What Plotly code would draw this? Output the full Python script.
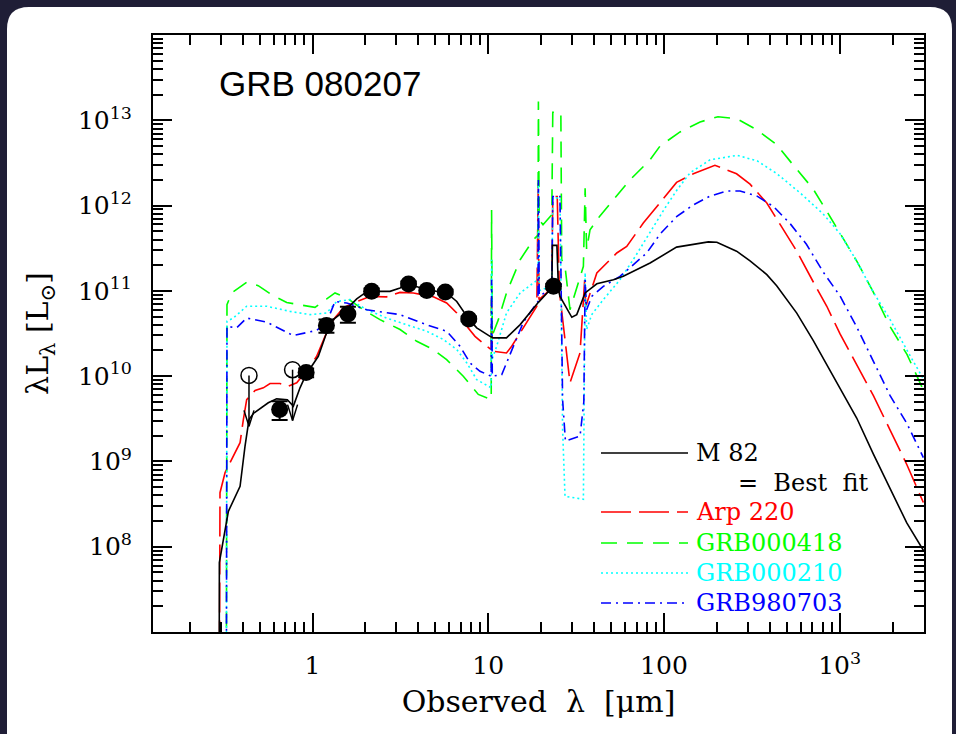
import plotly.graph_objects as go

# ---------------- data (wavelength in micron, lambda*L_lambda in L_sun) -------------
m82_wl = [0.294, 0.295, 0.332, 0.387, 0.413, 0.435, 0.461, 0.560, 0.625, 0.719,
          0.778, 0.849, 0.918, 1.079, 1.193, 1.313, 1.566, 1.785, 1.99, 2.17,
          2.76, 3.15, 3.51, 4.47, 5.80, 6.62, 7.74, 8.60, 10.24, 10.7,
          12.7, 15.2, 19.3, 23.0, 23.2, 24.6, 25.1, 25.6, 29.9, 31.9,
          35.6, 41.5, 51.6, 58.7, 83.4, 118, 147, 179, 200, 259,
          309, 385, 438, 570, 708, 845, 1005, 1250, 1556, 1937,
          2410, 2995]
m82_L = [1e5, 6.5e7, 2.6e8, 5.1e8, 1.51e9, 3.1e9, 3.65e9, 4.87e9, 5.42e9, 5.3e9,
         4.45e9, 7.3e9, 1.04e10, 1.71e10, 3.07e10, 4.6e10, 6.14e10, 8.04e10, 9.45e10, 9.86e10,
         9.86e10, 1.08e11, 1.2e11, 1.03e11, 9.45e10, 7.5e10, 4.69e10, 3.68e10, 2.93e10, 2.81e10,
         2.81e10, 4.02e10, 7.33e10, 1.08e11, 3.41e11, 3.41e11, 1.03e11, 8.6e10, 4.9e10, 5.26e10,
         9.45e10, 1.21e11, 1.35e11, 1.48e11, 2.12e11, 3.26e11, 3.51e11, 3.75e11, 3.71e11, 2.92e11,
         2.25e11, 1.55e11, 1.15e11, 5.48e10, 2.61e10, 1.36e10, 7.1e9, 3.23e9, 1.22e9, 4.82e8,
         1.9e8, 9.1e7]

arp_wl = [0.294, 0.2975, 0.318, 0.347, 0.387, 0.404, 0.422, 0.471, 0.525, 0.573,
          0.653, 0.728, 0.813, 0.886, 0.968, 1.056, 1.178, 1.313, 1.497, 1.785,
          2.12, 2.64, 3.15, 3.75, 4.87, 5.80, 6.62, 7.55, 8.41, 9.8,
          10.4, 10.45, 10.55, 10.7, 12.7, 13.6, 15.2, 17.3, 18.9, 19.25,
          19.45, 21.5, 23.0, 23.3, 24.7, 25.4, 29.2, 33.3, 35.4, 35.9,
          41.5, 53.9, 61.4, 76.3, 83.4, 118, 147, 195, 259, 309,
          385, 458, 570, 708, 845, 1005, 1250, 1556, 1937, 2410,
          2995]
arp_L = [1e5, 4.3e8, 7.4e8, 1.05e9, 1.66e9, 3.1e9, 5.3e9, 6.8e9, 7.3e9, 8.2e9,
         8.2e9, 7.6e9, 8.36e9, 1.04e10, 1.31e10, 1.71e10, 2.93e10, 4.6e10, 6.3e10, 7.5e10,
         8.6e10, 8.5e10, 9.6e10, 9.45e10, 8.5e10, 7.2e10, 5.5e10, 3.84e10, 2.93e10, 2.24e10,
         2.05e10, 8.3e10, 1.9e10, 1.96e10, 1.87e10, 2.24e10, 3.21e10, 5.0e10, 6.6e10, 1.83e12,
         7.9e10, 9.45e10, 1.13e11, 1.28e12, 1.28e12, 1.0e11, 8.36e9, 1.87e10, 1.35e11, 6.6e10,
         1.62e11, 2.78e11, 3.32e11, 6.23e11, 7.8e11, 1.87e12, 2.36e12, 2.97e12, 2.36e12, 1.78e12,
         1.07e12, 6.1e11, 2.92e11, 1.27e11, 6.6e10, 3.13e10, 1.36e10, 5.9e9, 2.33e9, 9.2e8,
         3.3e8]

g418_wl = [0.322, 0.326, 0.347, 0.422, 0.491, 0.586, 0.713, 0.849, 1.033, 1.205,
           1.343, 1.566, 1.945, 2.42, 3.15, 3.92, 4.87, 5.80, 7.21, 8.78,
           10.4, 10.45, 10.55, 11.42, 12.7, 15.2, 18.06, 19.2, 19.3, 19.5,
           20.5, 23.0, 23.3, 25.9, 26.2, 27.35, 29.2, 34.8, 35.6, 36.3,
           37.96, 43.0, 51.6, 64.1, 83.4, 95.1, 123.5, 160.6, 203, 261,
           339, 440, 543, 706, 882, 1005, 1256, 1549, 1937, 2420,
           2985]
g418_L = [1e4, 6.9e10, 9.45e10, 1.26e11, 1.15e11, 9.0e10, 7.3e10, 6.9e10, 6.4e10, 8.04e10,
          9.45e10, 8.3e10, 6.0e10, 4.6e10, 3.52e10, 2.56e10, 2.05e10, 1.56e10, 9.98e9, 6.1e9,
          5.3e9, 8.9e11, 3.0e10, 4.6e10, 9.45e10, 2.32e11, 3.98e11, 4.5e11, 1.66e13, 6.8e11,
          5.96e11, 7.8e11, 1.24e13, 1.24e13, 2.32e11, 1.94e11, 6.0e10, 1.94e11, 1.6e12, 3.03e11,
          5.2e11, 7.45e11, 1.17e12, 2.0e12, 3.44e12, 5.0e12, 7.3e12, 9.57e12, 1.10e13, 1.04e13,
          7.7e12, 5.15e12, 3.0e12, 1.57e12, 7.4e11, 4.68e11, 2.2e11, 9.8e10, 3.81e10, 1.79e10,
          6.97e9]

g210_wl = [0.322, 0.326, 0.354, 0.422, 0.549, 0.745, 0.968, 1.205, 1.373, 1.635,
           2.035, 2.64, 3.44, 4.47, 5.55, 6.62, 7.55, 8.60, 10.4, 10.45,
           10.55, 11.17, 12.7, 15.2, 18.06, 19.2, 19.3, 19.5, 21.5, 23.0,
           23.3, 25.6, 26.5, 27.35, 34.8, 35.6, 36.3, 38.8, 45.2, 56.2,
           68.5, 83.4, 101.5, 118.8, 140.8, 183, 261, 339, 440, 595,
           805, 1005, 1256, 1549, 1937, 2420, 2985]
g210_L = [1e4, 4.4e10, 4.8e10, 6.6e10, 6.6e10, 5.75e10, 5.26e10, 5.5e10, 7.5e10, 7.9e10,
          6.0e10, 4.8e10, 4.0e10, 3.36e10, 2.69e10, 2.05e10, 1.43e10, 9.1e9, 7.3e9, 2.32e11,
          1.6e10, 2.24e10, 5.5e10, 9.45e10, 1.24e11, 1.35e11, 1.75e12, 1.0e11, 1.09e11, 1.13e11,
          1.23e12, 1.23e12, 2.37e9, 3.9e8, 3.6e8, 1.63e11, 3.52e10, 5.26e10, 7.9e10, 1.35e11,
          2.51e11, 4.93e11, 9.4e11, 1.53e12, 2.42e12, 3.44e12, 3.88e12, 3.35e12, 2.36e12, 1.41e12,
          8.0e11, 4.68e11, 2.2e11, 9.8e10, 4.6e10, 2.0e10, 9.4e9]

g703_wl = [0.322, 0.326, 0.370, 0.422, 0.549, 0.778, 1.056, 1.205, 1.343, 1.566,
           2.035, 3.15, 4.47, 5.80, 6.91, 7.88, 8.98, 10.4, 10.45, 10.55,
           11.93, 13.9, 15.85, 18.9, 19.2, 19.3, 19.5, 23.0, 23.3, 25.6,
           26.5, 27.5, 33.3, 35.0, 35.6, 36.3, 38.8, 45.2, 56.2, 79.8,
           95.1, 118, 147, 183, 228, 271, 339, 420, 524, 647,
           805, 1005, 1250, 1556, 1937, 2410, 2995]
g703_L = [1e4, 3.84e10, 3.68e10, 4.8e10, 4.3e10, 2.99e10, 3.44e10, 4.3e10, 7.5e10, 7.2e10,
          6.0e10, 5.26e10, 4.0e10, 3.36e10, 2.24e10, 1.43e10, 1.14e10, 9.98e9, 1.35e11, 1.0e10,
          1.04e10, 2.24e10, 4.3e10, 7.2e10, 7.5e10, 2.0e12, 8.8e10, 1.03e11, 1.28e12, 1.28e12,
          5.3e9, 1.73e9, 1.98e9, 5.0e9, 1.35e11, 6.0e10, 8.6e10, 1.13e11, 1.48e11, 2.78e11,
          4.64e11, 7.4e11, 1.02e12, 1.29e12, 1.48e12, 1.48e12, 1.29e12, 9.75e11, 6.1e11, 3.52e11,
          1.67e11, 8.7e10, 3.78e10, 1.49e10, 5.9e9, 2.8e9, 1.11e9]

phot_wl = [0.65, 0.92, 1.2, 1.59, 2.17, 3.52, 4.47, 5.7, 7.75, 23.5]
phot_L = [4.06e9, 1.10e10, 3.92e10, 5.37e10, 9.87e10, 1.205e11, 1.01e11, 9.7e10, 4.69e10, 1.13e11]
phot_err = [1.0e9, 1.3e9, 7.0e9, 1.15e10, 8e9, 8e9, 6e9, 6e9, 3e9, 7e9]

ul_wl = [0.435, 0.77]
ul_L = [1.02e10, 1.19e10]

x_tickvals = [1, 10, 100, 1000]
x_ticktext = ["1", "10", "100", "10<sup>3</sup>"]
y_tickvals = [1e8, 1e9, 1e10, 1e11, 1e12, 1e13]
y_ticktext = ["10<sup>8</sup>", "10<sup>9</sup>", "10<sup>10</sup>", "10<sup>11</sup>",
              "10<sup>12</sup>", "10<sup>13</sup>"]

legend_names = ["M 82", "Arp 220", "GRB000418", "GRB000210", "GRB980703"]
title_text = "GRB 080207"

# ---------------- layout geometry -------------
W, H = 956, 734
L_, R_, T_, B_ = 153, 924, 35, 632
X_RANGE = [-0.9078, 3.480]
Y_RANGE = [7, 14]
SERIF = "DejaVu Serif"


def px_x(px):
    return (px - L_) / (R_ - L_)


def px_y(py):
    return (B_ - py) / (B_ - T_)


fig = go.Figure()

styles = [
    ("black", "solid"),
    ("#ff0000", "30px,8px"),
    ("#00ff00", "16px,10px"),
    ("#00ffff", "2px,3px"),
    ("#0000ff", "10px,5px,2px,5px"),
]
series = [(m82_wl, m82_L), (arp_wl, arp_L), (g418_wl, g418_L), (g210_wl, g210_L), (g703_wl, g703_L)]

order = [1, 2, 3, 4, 0]
for i in order:
    wl, lum = series[i]
    col, dash = styles[i]
    fig.add_trace(go.Scatter(x=wl, y=lum, mode="lines", name=legend_names[i],
                             line=dict(color=col, width=1.6, dash=dash),
                             showlegend=False, hoverinfo="skip"))

# upper-limit arrows (from the open circle centre downwards)
TIP = 10 ** (-51 / 85.4)
HV = 10 ** (16 / 85.4)
HF = 10 ** (5 / 175.7)
for xw, yl in zip(ul_wl, ul_L):
    tip = yl * TIP
    fig.add_trace(go.Scatter(
        x=[xw, xw, None, xw / HF, xw, xw * HF],
        y=[yl, tip, None, tip * HV, tip, tip * HV],
        mode="lines", line=dict(color="black", width=1.5),
        showlegend=False, hoverinfo="skip"))

fig.add_trace(go.Scatter(x=ul_wl, y=ul_L, mode="markers",
                         marker=dict(symbol="circle-open", size=16, color="black",
                                     line=dict(width=1.5, color="black")),
                         showlegend=False, hoverinfo="skip"))

fig.add_trace(go.Scatter(x=phot_wl, y=phot_L, mode="markers",
                         marker=dict(symbol="circle", size=17, color="black"),
                         error_y=dict(type="data", array=phot_err, visible=True,
                                      color="black", thickness=2, width=8),
                         showlegend=False, hoverinfo="skip"))

# ---------------- background panel -------------
x0, y0, x1, y1, r = 7, 7, 952, 800, 22
path = (f"M {px_x(x0 + r)},{px_y(y0)} L {px_x(x1 - r)},{px_y(y0)} "
        f"Q {px_x(x1)},{px_y(y0)} {px_x(x1)},{px_y(y0 + r)} "
        f"L {px_x(x1)},{px_y(y1)} L {px_x(x0)},{px_y(y1)} L {px_x(x0)},{px_y(y0 + r)} "
        f"Q {px_x(x0)},{px_y(y0)} {px_x(x0 + r)},{px_y(y0)} Z")
shapes = [dict(type="path", path=path, xref="paper", yref="paper",
               fillcolor="white", line=dict(width=0), layer="below")]

# ---------------- hand-made legend -------------
leg_rows = [453, 512, 543, 573, 603]
for i, yrow in enumerate(leg_rows):
    col, dash = styles[i]
    shapes.append(dict(type="line", xref="paper", yref="paper",
                       x0=px_x(601), x1=px_x(688), y0=px_y(yrow), y1=px_y(yrow),
                       line=dict(color=col, width=1.6, dash=dash)))

annotations = []
for i, yrow in enumerate(leg_rows):
    col, _ = styles[i]
    annotations.append(dict(text=legend_names[i], xref="paper", yref="paper",
                            x=px_x(694), y=px_y(yrow), xanchor="left", yanchor="middle",
                            showarrow=False, font=dict(family=SERIF, size=24, color=col)))
annotations.append(dict(text="=  Best  fit", xref="paper", yref="paper",
                        x=px_x(736), y=px_y(483), xanchor="left", yanchor="middle",
                        showarrow=False, font=dict(family=SERIF, size=24, color="black")))
annotations.append(dict(text=title_text, xref="paper", yref="paper",
                        x=px_x(217), y=px_y(83), xanchor="left", yanchor="middle",
                        showarrow=False,
                        font=dict(family="Liberation Sans", size=35, color="black")))

minor_x = [m * 10 ** e for e in range(-1, 4) for m in range(2, 10)]
minor_y = [m * 10 ** e for e in range(7, 14) for m in range(2, 10)]

axis_common = dict(type="log", showline=True, linecolor="black", linewidth=2,
                   mirror="ticks", ticks="inside", ticklen=19, tickwidth=1.5,
                   tickcolor="black", showgrid=False, zeroline=False,
                   tickfont=dict(family=SERIF, size=25, color="black"))

fig.update_layout(
    width=W, height=H, autosize=False,
    margin=dict(l=L_, r=W - R_, t=T_, b=H - B_, pad=0),
    paper_bgcolor="#1f1e36", plot_bgcolor="white",
    shapes=shapes, annotations=annotations, showlegend=False,
    xaxis=dict(axis_common, range=X_RANGE, tickmode="array",
               tickvals=x_tickvals, ticktext=x_ticktext, ticklabelstandoff=10,
               minor=dict(ticks="inside", ticklen=10, tickwidth=1.5, tickcolor="black",
                          tickvals=minor_x),
               title=dict(text="Observed  λ  [μm]", standoff=12,
                          font=dict(family=SERIF, size=30, color="black"))),
    yaxis=dict(axis_common, range=Y_RANGE, tickmode="array",
               tickvals=y_tickvals, ticktext=y_ticktext, ticklabelstandoff=14,
               minor=dict(ticks="inside", ticklen=10, tickwidth=1.5, tickcolor="black",
                          tickvals=minor_y),
               title=dict(text="λL<sub>λ</sub> [L<sub>⊙</sub>]", standoff=20,
                          font=dict(family=SERIF, size=30, color="black"))),
)

fig.write_html("out.html")
